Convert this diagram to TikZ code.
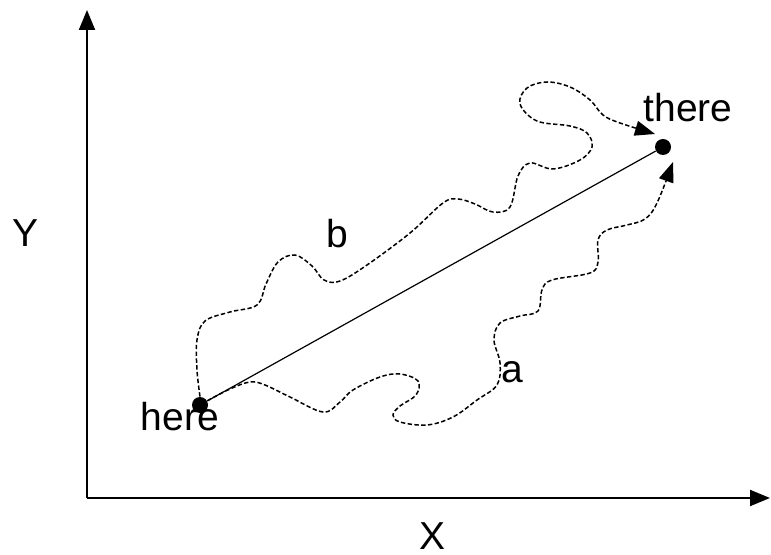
\documentclass[tikz,border=0pt]{standalone}
\usepackage{fontspec}
\setmainfont{Liberation Sans}
\usepackage{tikz}
\usetikzlibrary{arrows.meta}
\tikzstyle{axis} = [-{Triangle[length=10pt, width=8pt]}, line width=1pt]
\tikzstyle{route} = [dash pattern=on 2.2pt off 1.2pt, line width=0.75pt, -{Triangle[length=10pt, width=7.5pt]}]
\tikzstyle{dot} = [circle, fill=black, inner sep=0pt, minimum size=8pt]
\tikzstyle{lbl} = [anchor=base, inner sep=0pt, font=\fontsize{19.5}{22}\selectfont]

\begin{document}
\begin{tikzpicture}[x=0.5pt, y=-0.5pt]
    \useasboundingbox (0,0) rectangle (771,555);

    % Axes
    \coordinate (origin) at (87,498);
    \coordinate (ytip) at (87,10);
    \coordinate (xtip) at (770,498);
    \draw[axis] (origin) -- (ytip);
    \draw[axis] (origin) -- (xtip);
    \node[lbl] (ylabel) at (26,247) {Y};
    \node[lbl] (xlabel) at (433,549) {X};

    % End points
    \node[dot] (here) at (200,405) {};
    \node[dot] (there) at (663,147) {};
    \node[lbl] (herelabel) at (180,430) {here};
    \node[lbl] (therelabel) at (688,122) {there};

    % Straight route
    \draw[line width=0.6pt] (here) -- (there);

    % Wandering route b
    \coordinate (tipb) at (655,134);
    \draw[route] plot[smooth, tension=0.6] coordinates {(here.north) (197,370) (197,340) (205,321) (230,312) (257,305) (266,284) (278,262) (295,255) (312,266) (324,280) (340,281) (367,265) (410,233) (443,203) (458,199) (475,204) (493,212) (510,207) (518,176) (530,163) (553,169) (580,160) (592,147) (587,133) (570,126) (537,121) (520,104) (527,88) (547,82) (570,87) (590,100) (603,115) (620,123) (tipb)};
    \node[lbl] (blabel) at (337,248) {b};

    % Wandering route a
    \coordinate (tipa) at (673,162);
    \draw[route] plot[smooth, tension=0.6] coordinates {(here.30) (230,389) (250,382) (265,385) (290,397) (323,412) (340,402) (353,390) (380,377) (400,374) (418,381) (416,395) (400,406) (393,415) (400,422) (427,425) (453,417) (477,400) (497,385) (500,363) (494,340) (500,323) (520,316) (538,311) (542,290) (552,280) (590,273) (598,262) (598,240) (607,230) (627,225) (645,219) (657,203) (tipa)};
    \node[lbl] (alabel) at (512,383) {a};
\end{tikzpicture}
\end{document}
